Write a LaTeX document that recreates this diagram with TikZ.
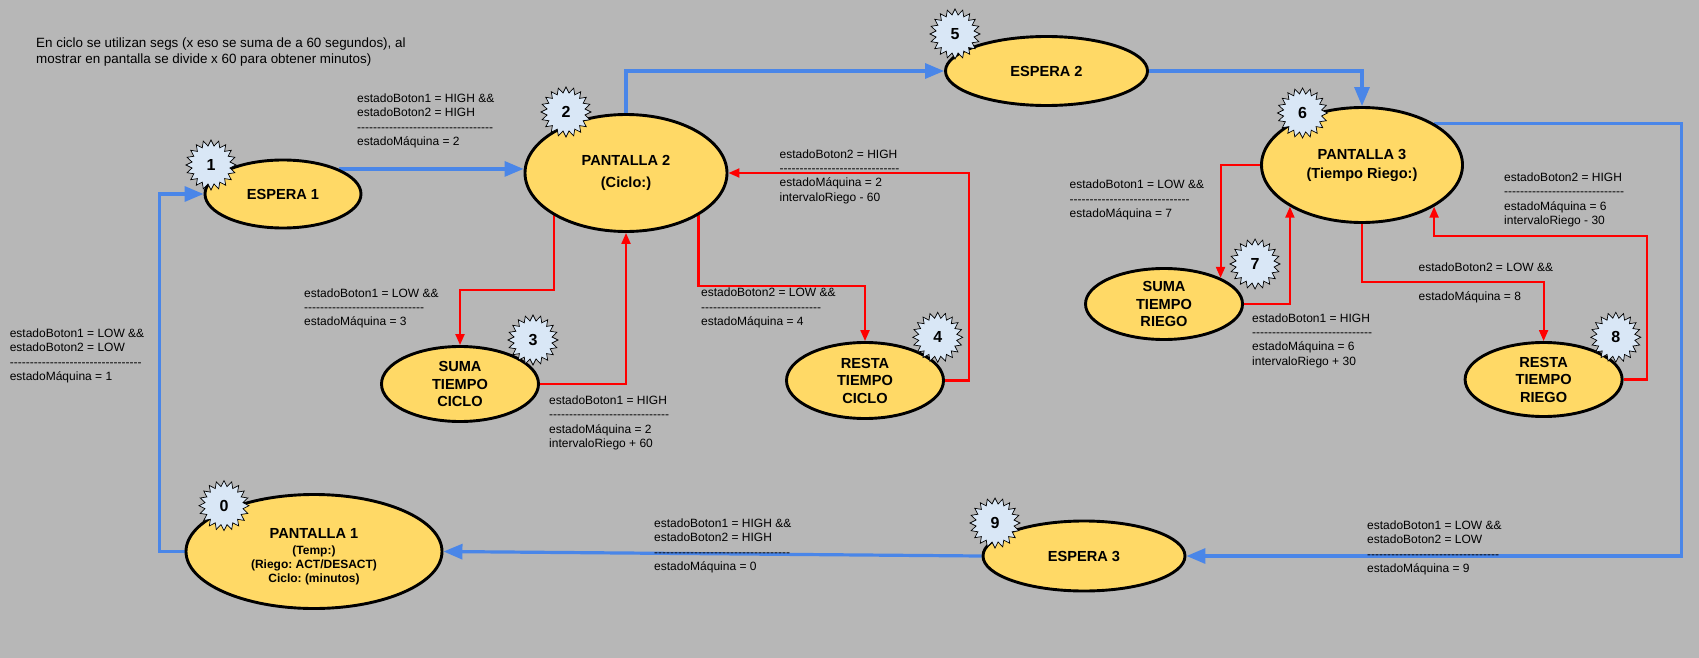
\documentclass[tikz,border=0pt]{standalone}
\usepackage{fontspec}
\setmainfont{Liberation Sans}[Ligatures=TeXOff]
\usetikzlibrary{shapes.geometric,arrows.meta,calc}

\definecolor{canvas}{HTML}{B7B7B7}
\definecolor{stateyellow}{HTML}{FFD966}
\definecolor{badgeblue}{HTML}{D9E7F6}
\definecolor{flowblue}{HTML}{4A86E8}
\definecolor{flowred}{HTML}{FF0000}

\pgfdeclarelayer{backdrop}
\pgfdeclarelayer{wires}
\pgfsetlayers{backdrop,wires,main}

\frenchspacing

% a row of n hyphens used as the separator inside the transition notes
\newcommand\dashrow[1]{\foreach \k in {1,...,#1}{-}}

\tikzset{
  stnode/.style={ellipse, draw=black, line width=2.9pt, fill=stateyellow,
    inner sep=0pt, align=center, font=\bfseries\fontsize{14.6}{17.5}\selectfont},
  badge/.style={star, star points=20, star point ratio=1.3, minimum size=50pt,
    inner sep=0pt, draw=black, line width=0.7pt, fill=badgeblue,
    font=\bfseries\fontsize{16}{16}\selectfont},
  cond/.style={anchor=west, align=left, inner sep=0pt,
    font=\fontsize{12}{14.3}\selectfont},
  blueflow/.style={draw=flowblue, line width=3.2pt,
    -{Triangle[length=19pt,width=15pt]}},
  redflow/.style={draw=flowred, line width=2.1pt,
    -{Triangle[length=11pt,width=9pt]}},
}

\begin{document}
\begin{tikzpicture}[x=1pt,y=-1pt]
\useasboundingbox (0,0) rectangle (1699,658);
\begin{pgfonlayer}{backdrop}
  \fill[canvas] (0,0) rectangle (1699,658);
\end{pgfonlayer}

% note at the top
\node[anchor=west, align=left, inner sep=0pt, font=\fontsize{13.4}{16.2}\selectfont] (note) at (36,52)
  {En ciclo se utilizan segs (x eso se suma de a 60 segundos), al\\mostrar en pantalla se divide x 60 para obtener minutos)};

% states
\node[stnode, minimum width=256pt, minimum height=114pt, font=\bfseries\fontsize{12}{14}\selectfont]
  (p1) at (314,551.5) {\rule{0pt}{20pt}{\fontsize{14.6}{16}\selectfont PANTALLA 1}\\[2pt](Temp:)\\(Riego: ACT/DESACT)\\Ciclo: (minutos)};
\node[stnode, minimum width=156pt, minimum height=68pt] (e1) at (283,194) {ESPERA 1};
\node[stnode, minimum width=202pt, minimum height=117pt] (p2) at (626,173) {PANTALLA 2\\[5pt](Ciclo:)};
\node[stnode, minimum width=202pt, minimum height=69pt] (e5) at (1046.5,71) {ESPERA 2};
\node[stnode, minimum width=201pt, minimum height=115pt] (p6) at (1362,165) {PANTALLA 3\\[1.5pt](Tiempo Riego:)};
\node[stnode, minimum width=157pt, minimum height=75pt] (s3) at (460,384) {SUMA\\TIEMPO\\CICLO};
\node[stnode, minimum width=157pt, minimum height=76pt] (r4) at (865,380.5) {RESTA\\TIEMPO\\CICLO};
\node[stnode, minimum width=157pt, minimum height=71pt] (s7) at (1164,304) {SUMA\\TIEMPO\\RIEGO};
\node[stnode, minimum width=157pt, minimum height=74pt] (r8) at (1543.6,379.5) {RESTA\\TIEMPO\\RIEGO};
\node[stnode, minimum width=202pt, minimum height=70pt] (e9) at (1084,556) {ESPERA 3};

% state numbers
\node[badge] (b0) at (224,505.7) {0};
\node[badge] (b1) at (211,165) {1};
\node[badge] (b2) at (566,112) {2};
\node[badge] (b3) at (533,340) {3};
\node[badge] (b4) at (937.7,337.3) {4};
\node[badge] (b5) at (955,34) {5};
\node[badge] (b6) at (1302.5,113) {6};
\node[badge] (b7) at (1255,264) {7};
\node[badge] (b8) at (1615.8,337.3) {8};
\node[badge] (b9) at (995,523) {9};

% transition conditions
\node[cond] (c01) at (9.6,356) {estadoBoton1 = LOW \&\&\\estadoBoton2 = LOW\\\dashrow{33}\\estadoMáquina = 1};
\node[cond] (c12) at (357,121) {estadoBoton1 = HIGH \&\&\\estadoBoton2 = HIGH\\\dashrow{34}\\estadoMáquina = 2};
\node[cond] (c23) at (304,308.5) {estadoBoton1 = LOW \&\&\\\dashrow{30}\\estadoMáquina = 3};
\node[cond] (c32) at (549,423) {estadoBoton1 = HIGH\\\dashrow{30}\\estadoMáquina = 2\\intervaloRiego + 60};
\node[cond] (c24) at (701,308) {estadoBoton2 = LOW \&\&\\\dashrow{30}\\estadoMáquina = 4};
\node[cond] (c42) at (779.4,176.5) {estadoBoton2 = HIGH\\\dashrow{30}\\estadoMáquina = 2\\intervaloRiego - 60};
\node[cond] (c67) at (1069.5,200) {estadoBoton1 = LOW \&\&\\\dashrow{30}\\estadoMáquina = 7};
\node[cond] (c86) at (1504,200) {estadoBoton2 = HIGH\\\dashrow{30}\\estadoMáquina = 6\\intervaloRiego - 30};
\node[cond] (c68) at (1418.4,283) {estadoBoton2 = LOW \&\&\\\mbox{}\\estadoMáquina = 8};
\node[cond] (c76) at (1252,340.5) {estadoBoton1 = HIGH\\\dashrow{30}\\estadoMáquina = 6\\intervaloRiego + 30};
\node[cond] (c69) at (1367,548) {estadoBoton1 = LOW \&\&\\estadoBoton2 = LOW\\\dashrow{33}\\estadoMáquina = 9};
\node[cond] (c90) at (654,546) {estadoBoton1 = HIGH \&\&\\estadoBoton2 = HIGH\\\dashrow{34}\\estadoMáquina = 0};

\begin{pgfonlayer}{wires}
  % main cycle
  \draw[blueflow] (p1.west) -- ++(-25,0) |- (e1.west);
  \draw[blueflow] (e1.north east) -- (e1.north east -| p2.west);
  \draw[blueflow] (p2.north) |- (e5.west);
  \draw[blueflow] (e5.east) -| (p6.north);
  \draw[blueflow] (p6.north east) -- ++(247,0) |- (e9.east);
  \draw[blueflow] (e9.west) -- (p1.east);
  % cycle time adjustment
  \draw[redflow] (p2.south west) |- ($(s3.north)+(0,-55)$) -- (s3.north);
  \draw[redflow] (s3.east) -| (p2.south);
  \draw[redflow] (p2.south east) |- ($(r4.north)+(0,-55)$) -- (r4.north);
  \draw[redflow] (r4.east) -- ++(24,0) |- (p2.east);
  % irrigation time adjustment
  \draw[redflow] (p6.west) -| (s7.north east);
  \draw[redflow] (s7.east) -| (p6.south west);
  \draw[redflow] (p6.south) |- ($(r8.north)+(0,-59)$) -- (r8.north);
  \draw[redflow] (r8.east) -- ++(23,0) |- ($(p6.south east)+(0,29)$) -- (p6.south east);
\end{pgfonlayer}
\end{tikzpicture}
\end{document}
